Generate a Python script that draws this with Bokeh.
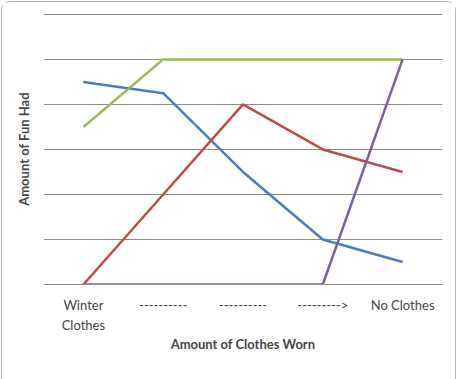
from bokeh.plotting import figure
from bokeh.models import Range1d, FixedTicker, Legend, LegendItem, LinearAxis
from bokeh.embed import file_html
from bokeh.resources import INLINE

x_labels_line1 = ["Winter", "----------", "----------", "--------->", "No Clothes"]
x_labels_line2 = ["Clothes", "", "", "", ""]
x_pos = [0, 1, 2, 3, 4]
snowboarding = [4.5, 4.25, 2.5, 1.0, 0.5]
volleyball = [0, 2, 4, 3, 2.5]
rock_band = [3.5, 5, 5, 5, 5]
making_graphs = [0, 0, 0, 0, 5]
series_names = ["Snowboarding", "Volleyball", "Rock Band", "Making Graphs"]
series_colors = ["#4A7EBB", "#BE4B48", "#98B954", "#7D60A0"]
y_ticks = [0, 1, 2, 3, 4, 5, 6]

FONT = "Lato"

p = figure(frame_width=399, frame_height=271, output_backend="svg", toolbar_location=None,
           x_range=Range1d(-0.5, 4.5), y_range=Range1d(0, 6.02),
           min_border_left=41, min_border_right=13, min_border_top=11, min_border_bottom=0,
           background_fill_color="white", border_fill_color="white",
           styles={"border": "1px solid #b4b4b4", "border-radius": "9px", "margin": "1px"})
p.outline_line_color = None

# grid
p.ygrid.ticker = FixedTicker(ticks=y_ticks)
p.ygrid.grid_line_color = "#8c8c8c"
p.ygrid.grid_line_width = 1
p.xgrid.grid_line_color = None

# y axis
p.yaxis.ticker = FixedTicker(ticks=y_ticks)
p.yaxis.axis_line_color = None
p.yaxis.major_tick_line_color = None
p.yaxis.minor_tick_line_color = None
p.yaxis.major_label_text_font_size = "0px"
p.yaxis.axis_label = "Amount of Fun Had"
p.yaxis.axis_label_text_font = FONT
p.yaxis.axis_label_text_font_style = "bold"
p.yaxis.axis_label_text_font_size = "13px"
p.yaxis.axis_label_standoff = 6

# x axis, first label line
p.xaxis.ticker = FixedTicker(ticks=x_pos)
p.xaxis.major_label_overrides = {x: lab for x, lab in zip(x_pos, x_labels_line1)}
p.xaxis.axis_line_color = "#8c8c8c"
p.xaxis.major_tick_line_color = None
p.xaxis.minor_tick_line_color = None
p.xaxis.major_tick_out = 0
p.xaxis.major_tick_in = 0
p.xaxis.major_label_text_font = FONT
p.xaxis.major_label_text_font_size = "13px"
p.xaxis.major_label_standoff = 12

# second label line + axis title
ax2 = LinearAxis(ticker=FixedTicker(ticks=x_pos),
                 major_label_overrides={x: lab for x, lab in zip(x_pos, x_labels_line2)},
                 axis_line_color=None, major_tick_line_color=None, minor_tick_line_color=None,
                 major_tick_out=0, major_tick_in=0,
                 major_label_text_font=FONT, major_label_text_font_size="13px",
                 major_label_standoff=1,
                 axis_label="Amount of Clothes Worn", axis_label_text_font=FONT,
                 axis_label_text_font_style="bold", axis_label_text_font_size="13px",
                 axis_label_standoff=0)
p.add_layout(ax2, "below")

items = []
for name, ys, col in zip(series_names, [snowboarding, volleyball, rock_band, making_graphs], series_colors):
    r = p.line(x_pos, ys, line_color=col, line_width=2.5)
    items.append(LegendItem(label=name, renderers=[r]))

legend = Legend(items=items, orientation="horizontal",
                label_text_font=FONT, label_text_font_size="13px",
                glyph_width=15, glyph_height=10, label_standoff=2, spacing=12,
                padding=0, margin=4, border_line_color=None, background_fill_alpha=0)
p.add_layout(legend, "below")

open("out.html", "w").write(file_html(p, INLINE))
